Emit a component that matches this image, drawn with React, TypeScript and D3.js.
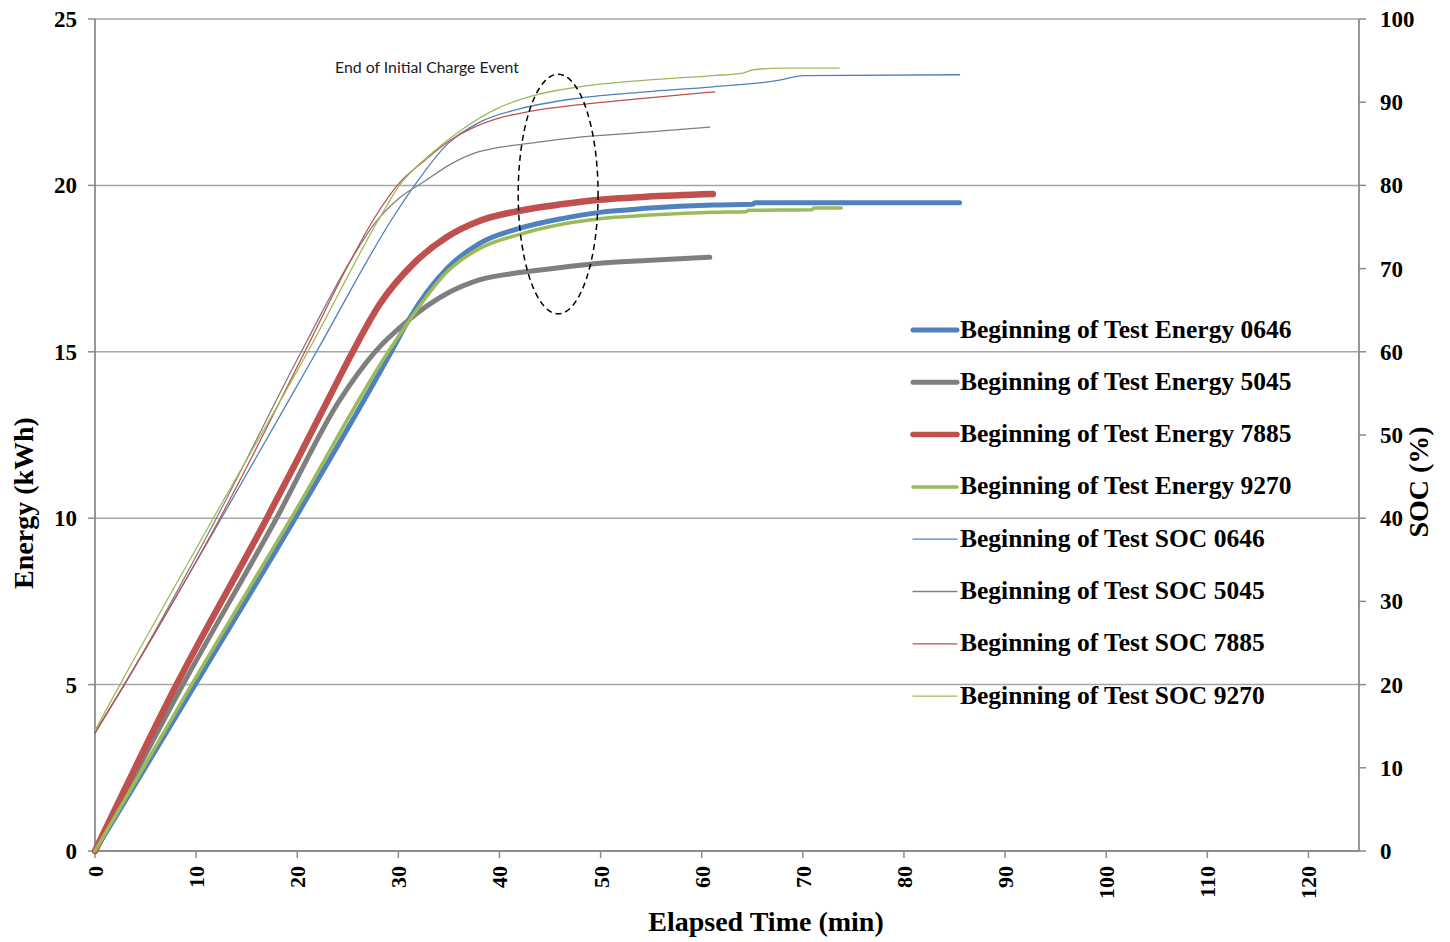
import React from 'react';
import * as d3 from 'd3';

type Pt = [number, number];

// Elapsed time (min) vs Energy (kWh)
const energy0646: Pt[] = [[0, 0], [9.9, 5], [19.8, 10], [29.3, 15], [31.1, 16.0], [34.8, 17.5], [38, 18.25], [42, 18.71], [46.3, 19.01], [49.9, 19.19], [54.5, 19.31], [61.1, 19.41], [65.0, 19.43], [65.3, 19.48], [85.5, 19.48]];
const energy5045: Pt[] = [[0, 0], [8.7, 5], [17.95, 10], [24.2, 13.55], [27.7, 15], [30.8, 15.9], [34.8, 16.75], [38, 17.16], [42, 17.38], [46.3, 17.54], [49.9, 17.66], [54.5, 17.74], [60.8, 17.84]];
const energy7885: Pt[] = [[0, 0], [8.07, 5], [17, 10], [20, 11.75], [23.2, 13.65], [25.4, 14.95], [28.2, 16.45], [31.5, 17.65], [34.8, 18.45], [38, 18.93], [42, 19.24], [46.3, 19.44], [49.9, 19.57], [54.5, 19.66], [61.1, 19.74]];
const energy9270: Pt[] = [[0, 0], [9.55, 5], [19.4, 10], [29.0, 15], [31.1, 15.95], [34.8, 17.4], [38, 18.1], [42, 18.53], [46.3, 18.84], [49.9, 19.0], [54.5, 19.1], [61.1, 19.19], [64.4, 19.21], [64.6, 19.25], [70.9, 19.27], [71.1, 19.32], [73.8, 19.32]];

// Elapsed time (min) vs SOC (%)
const soc0646: Pt[] = [[0, 14.2], [2.9, 20], [12.5, 40], [21.9, 60], [29.5, 76.2], [31.6, 80], [34.8, 84.9], [38.05, 87.6], [42, 89.2], [47.9, 90.5], [54.5, 91.25], [61.1, 91.85], [67.7, 92.65], [70, 93.2], [85.5, 93.3]];
const soc5045: Pt[] = [[0, 14.2], [2.9, 20], [12, 40], [20.4, 60], [25.2, 70.8], [27.7, 75.5], [30.1, 78.5], [32.6, 80.5], [35.1, 82.5], [37.6, 83.9], [40.1, 84.6], [42, 84.9], [47.9, 85.8], [54.5, 86.4], [60.8, 87.0]];
const soc7885: Pt[] = [[0, 14.2], [2.9, 20], [12.36, 40], [20.75, 60], [25.2, 70.8], [27.7, 76.2], [30.1, 80.3], [32.6, 83.0], [35.1, 85.4], [37.5, 87.0], [39.7, 88.0], [43, 88.9], [47.9, 89.7], [54.5, 90.5], [61.3, 91.25]];
const soc9270: Pt[] = [[0, 14.5], [2.47, 20], [11.7, 40], [21.05, 60], [28.2, 76.2], [30.1, 80], [33.1, 83.65], [36.4, 86.8], [39.7, 89.2], [43.7, 90.9], [47.9, 91.85], [54.5, 92.65], [61.1, 93.2], [64.1, 93.5], [65.1, 93.9], [68, 94.1], [73.6, 94.1]];

const xTicks = d3.range(0, 121, 10);
const energyTicks = [0, 5, 10, 15, 20, 25];
const socTicks = d3.range(0, 101, 10);

const seriesNames = [
  'Beginning of Test Energy 0646',
  'Beginning of Test Energy 5045',
  'Beginning of Test Energy 7885',
  'Beginning of Test Energy 9270',
  'Beginning of Test SOC 0646',
  'Beginning of Test SOC 5045',
  'Beginning of Test SOC 7885',
  'Beginning of Test SOC 9270',
];
const seriesData = [energy0646, energy5045, energy7885, energy9270, soc0646, soc5045, soc7885, soc9270];
const seriesAxis = ['E', 'E', 'E', 'E', 'S', 'S', 'S', 'S'];
const seriesColors = ['#4F81BD', '#7F7F7F', '#C0504D', '#9BBB59', '#4F81BD', '#7F7F7F', '#C0504D', '#9BBB59'];
const seriesWidths = [5, 5, 6.5, 3.5, 1.3, 1.3, 1.3, 1.3];

// Annotation: ellipse center (min, kWh) and radii
const annotationText = 'End of Initial Charge Event';
const ellipseCenter: Pt = [45.8, 19.74];
const ellipseRadii: Pt = [3.95, 3.6];

const serif = '"Liberation Serif", "Times New Roman", serif';

export default function App() {
  const left = 95, right = 1359, top = 19, bottom = 851;
  const x = d3.scaleLinear().domain([0, 125]).range([left, right]);
  const yE = d3.scaleLinear().domain([0, 25]).range([bottom, top]);
  const yS = d3.scaleLinear().domain([0, 100]).range([bottom, top]);
  const lineE = d3.line<Pt>().x(d => x(d[0])).y(d => yE(d[1])).curve(d3.curveMonotoneX);
  const lineS = d3.line<Pt>().x(d => x(d[0])).y(d => yS(d[1])).curve(d3.curveMonotoneX);

  const gridColor = '#A6A6A6';
  const axisColor = '#8C8C8C';

  const ex = x(ellipseCenter[0]);
  const ey = yE(ellipseCenter[1]);
  const erx = x(ellipseCenter[0] + ellipseRadii[0]) - ex;
  const ery = yE(ellipseCenter[1] - ellipseRadii[1]) - ey;

  return (
    <svg width={1450} height={942} style={{ position: 'absolute', left: 0, top: 0, background: '#fff' }}>
      <rect x={0} y={0} width={1450} height={942} fill="#fff" />
      {energyTicks.filter(t => t > 0).map(t => (
        <line key={'g' + t} x1={left} x2={right} y1={yE(t)} y2={yE(t)} stroke={gridColor} strokeWidth={1.5} />
      ))}
      <line x1={left} x2={left} y1={top} y2={bottom} stroke={axisColor} strokeWidth={1.8} />
      <line x1={right} x2={right} y1={top} y2={bottom} stroke={axisColor} strokeWidth={1.8} />
      <line x1={left} x2={right} y1={bottom} y2={bottom} stroke={axisColor} strokeWidth={1.8} />
      {energyTicks.map(t => (
        <g key={'le' + t}>
          <line x1={left - 7} x2={left} y1={yE(t)} y2={yE(t)} stroke={axisColor} strokeWidth={1.5} />
          <text x={77} y={yE(t) + 8} textAnchor="end" fontFamily={serif} fontWeight="bold" fontSize={23} fill="#000">{t}</text>
        </g>
      ))}
      {socTicks.map(t => (
        <g key={'rs' + t}>
          <line x1={right} x2={right + 7} y1={yS(t)} y2={yS(t)} stroke={axisColor} strokeWidth={1.5} />
          <text x={1380} y={yS(t) + 8} textAnchor="start" fontFamily={serif} fontWeight="bold" fontSize={23} fill="#000">{t}</text>
        </g>
      ))}
      {xTicks.map(t => (
        <g key={'xt' + t}>
          <line x1={x(t)} x2={x(t)} y1={bottom} y2={bottom + 7} stroke={axisColor} strokeWidth={1.5} />
          <text transform={`translate(${x(t) + 8},866) rotate(-90)`} textAnchor="end" fontFamily={serif} fontWeight="bold" fontSize={22} fill="#000">{t}</text>
        </g>
      ))}
      {seriesData.map((d, i) => (
        <path key={'s' + i} d={(seriesAxis[i] === 'E' ? lineE : lineS)(d) || ''} fill="none" stroke={seriesColors[i]} strokeWidth={seriesWidths[i]} strokeLinejoin="round" strokeLinecap="round" />
      ))}
      <ellipse cx={ex} cy={ey} rx={erx} ry={ery} fill="none" stroke="#000" strokeWidth={1.5} strokeDasharray="6,4" />
      <text x={335} y={73} fontFamily='Lato, "Open Sans", sans-serif' fontSize={14.5} fill="#1a1a2a" textLength={184} lengthAdjust="spacingAndGlyphs">{annotationText}</text>
      {seriesNames.map((n, i) => {
        const ly = 330 + i * 52.3;
        return (
          <g key={'lg' + i}>
            <line x1={913} x2={957} y1={ly} y2={ly} stroke={seriesColors[i]} strokeWidth={seriesWidths[i] < 2 ? 1.3 : Math.min(seriesWidths[i], 5.5)} strokeLinecap="round" />
            <text x={960} y={ly + 7.5} fontFamily={serif} fontWeight="bold" fontSize={25.5} fill="#000">{n}</text>
          </g>
        );
      })}
      <text transform="translate(33,503) rotate(-90)" textAnchor="middle" fontFamily={serif} fontWeight="bold" fontSize={28} fill="#000">Energy (kWh)</text>
      <text transform="translate(1428,482) rotate(-90)" textAnchor="middle" fontFamily={serif} fontWeight="bold" fontSize={28} fill="#000">SOC (%)</text>
      <text x={766} y={931} textAnchor="middle" fontFamily={serif} fontWeight="bold" fontSize={28} fill="#000">Elapsed Time (min)</text>
    </svg>
  );
}
